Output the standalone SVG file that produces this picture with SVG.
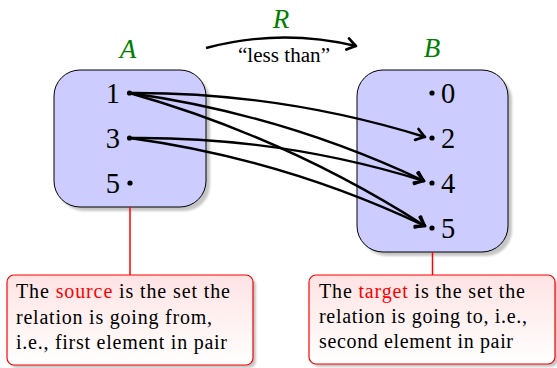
<svg xmlns="http://www.w3.org/2000/svg" width="557" height="368" viewBox="0 0 557 368" font-family="Liberation Serif, serif">
<style>
.setbox{fill:#ccccff;stroke:#000;stroke-width:1}
.shadow{fill:#a0a0a0;opacity:0.6}
.lbl{font-style:italic;font-size:27px;fill:#008000;text-anchor:middle}
.num{font-size:28.5px;fill:#000}
.txt{font-size:20px;fill:#000}
.red{fill:#ff0000}
.arr{fill:none;stroke:#000;stroke-width:2.4;marker-end:url(#ah)}
.note{fill:url(#ng);stroke:#ff0000;stroke-width:1.2}
.pin{stroke:#ff0000;stroke-width:1.5}
</style>
<defs>
<marker id="ah" markerUnits="userSpaceOnUse" markerWidth="16" markerHeight="16" viewBox="-9 -7 11 14" refX="0" refY="0" orient="auto">
<path d="M-7.5,-5 Q-2,-1 0,0 Q-2,1 -7.5,5" fill="none" stroke="#000" stroke-width="2.4" stroke-linecap="round" stroke-linejoin="round"/>
</marker>
<linearGradient id="ng" x1="0" y1="0" x2="0" y2="1">
<stop offset="0" stop-color="#ffe3e3"/>
<stop offset="1" stop-color="#ffffff"/>
</linearGradient>
<filter id="blur" x="-10%" y="-10%" width="120%" height="120%"><feGaussianBlur stdDeviation="1"/></filter>
</defs>

<g id="setA">
<rect class="shadow" x="58" y="74" width="152" height="137" rx="26" filter="url(#blur)"/>
<rect class="setbox" x="54" y="70" width="152" height="137" rx="26"/>
<text class="lbl" x="128" y="58">A</text>
<text class="num" x="120" y="103" text-anchor="end">1</text>
<text class="num" x="120" y="148" text-anchor="end">3</text>
<text class="num" x="120" y="193" text-anchor="end">5</text>
<circle cx="129.5" cy="93" r="2.6"/>
<circle cx="129.5" cy="138" r="2.6"/>
<circle cx="130" cy="183" r="2.6"/>
</g>

<g id="setB">
<rect class="shadow" x="361" y="74" width="151" height="182" rx="26" filter="url(#blur)"/>
<rect class="setbox" x="357" y="70" width="151" height="182" rx="26"/>
<text class="lbl" x="432" y="57">B</text>
<text class="num" x="441" y="103">0</text>
<text class="num" x="441" y="148">2</text>
<text class="num" x="441" y="193">4</text>
<text class="num" x="441" y="238">5</text>
<circle cx="432" cy="93" r="2.6"/>
<circle cx="432" cy="138" r="2.6"/>
<circle cx="432" cy="183" r="2.6"/>
<circle cx="432" cy="228" r="2.6"/>
</g>

<g id="relation">
<text class="lbl" x="281" y="28">R</text>
<text class="txt" x="284" y="62" text-anchor="middle" font-size="18" textLength="92" lengthAdjust="spacingAndGlyphs">“less than”</text>
</g>

<g id="connectors">
<path class="arr" d="M206,48 Q281,28 356,46"/>
<path class="arr" d="M129.5,93 Q280,92 425,137"/>
<path class="arr" d="M129.5,93 Q283.4,114.5 424,181"/>
<path class="arr" d="M129.5,93 Q286.8,137.6 425,226"/>
<path class="arr" d="M129.5,138 Q280,136.3 424,181"/>
<path class="arr" d="M129.5,138 Q283.8,159 425,226"/>
<line class="pin" x1="130" y1="207" x2="130" y2="275"/>
<line class="pin" x1="432.5" y1="252" x2="432.5" y2="275"/>
</g>

<g id="sourceNote">
<rect class="shadow" x="10" y="278" width="246" height="90" rx="7" filter="url(#blur)"/>
<rect class="note" x="7" y="275" width="246" height="90" rx="7"/>
<text class="txt" x="16" y="298" textLength="214" lengthAdjust="spacing">The <tspan class="red">source</tspan> is the set the</text>
<text class="txt" x="16" y="324" textLength="196" lengthAdjust="spacing">relation is going from,</text>
<text class="txt" x="16" y="349" textLength="211" lengthAdjust="spacing">i.e., first element in pair</text>
</g>

<g id="targetNote">
<rect class="shadow" x="312" y="278" width="246" height="89" rx="7" filter="url(#blur)"/>
<rect class="note" x="309" y="275" width="246" height="89" rx="7"/>
<text class="txt" x="319" y="298" textLength="206" lengthAdjust="spacing">The <tspan class="red">target</tspan> is the set the</text>
<text class="txt" x="319" y="323" textLength="208" lengthAdjust="spacing">relation is going to, i.e.,</text>
<text class="txt" x="319" y="348" textLength="194" lengthAdjust="spacing">second element in pair</text>
</g>
</svg>
